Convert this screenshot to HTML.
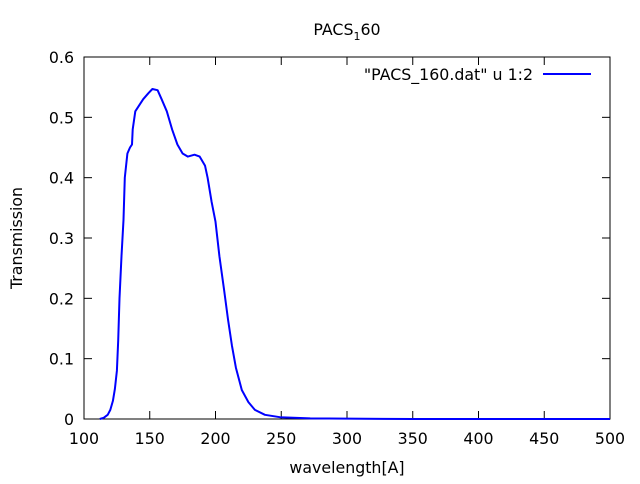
<!DOCTYPE html>
<html><head><meta charset="utf-8"><style>
body{margin:0;background:#fff;font-family:"DejaVu Sans",sans-serif}
svg text{font-family:"DejaVu Sans",sans-serif;font-size:15.8px;fill:#000}
</style></head><body>
<svg id="chart" width="640" height="480">
<text x="347" y="35" text-anchor="middle">PACS<tspan dy="5" font-size="11">1</tspan><tspan dy="-5">60</tspan></text>
<rect x="84" y="57" width="526" height="362" fill="none" stroke="#000" stroke-width="1"/>
<g id="ticks"></g>
<text x="347" y="473" text-anchor="middle">wavelength[A]</text>
<text transform="translate(22,238) rotate(-90)" text-anchor="middle">Transmission</text>
<g>
<text x="533" y="80" text-anchor="end">"PACS_160.dat" u 1:2</text>
<line x1="543" y1="74" x2="591" y2="74" stroke="#0000ff" stroke-width="2"/>
</g>
<path id="series" fill="none" stroke="#0000ff" stroke-width="2" stroke-linejoin="round"/>
</svg>
<script>
const wavelengths=[112,115,118,120,122,123.5,125,126,127,128.5,130,131,133,135,136.5,137,139,142,145,149,152,156,159,163,167,171,175,179,184,188,192,194,197,200,203,206.5,209.5,212.5,215.5,220,225,230,237.6,249,272,350,500];
const transmission=[0,0.002,0.007,0.015,0.03,0.05,0.08,0.13,0.2,0.27,0.33,0.4,0.44,0.45,0.455,0.48,0.51,0.52,0.53,0.54,0.547,0.545,0.53,0.51,0.48,0.455,0.44,0.435,0.438,0.435,0.42,0.4,0.36,0.327,0.27,0.215,0.165,0.122,0.085,0.048,0.028,0.015,0.007,0.003,0.001,0,0];
const xTicks=[100,150,200,250,300,350,400,450,500];
const yTicks=[0,0.1,0.2,0.3,0.4,0.5,0.6];
const X=v=>84+(v-100)*526/400, Y=v=>419-v*362/0.6;
const NS="http://www.w3.org/2000/svg", g=document.getElementById('ticks');
function mk(t,a){const e=document.createElementNS(NS,t);for(const k in a)e.setAttribute(k,a[k]);g.appendChild(e);return e;}
xTicks.forEach(v=>{const x=X(v);
const t1=mk('line',{x1:x,x2:x,y1:419,y2:411,stroke:'#000'});


const t2=mk('line',{x1:x,x2:x,y1:57,y2:65,stroke:'#000'});


const l=mk('text',{x:x,y:444,'text-anchor':'middle'});l.textContent=v;

});
yTicks.forEach(v=>{const y=Y(v);
const t1=mk('line',{x1:84,x2:92,y1:y,y2:y,stroke:'#000'});


const t2=mk('line',{x1:602,x2:610,y1:y,y2:y,stroke:'#000'});


const l=mk('text',{x:74,y:y+6,'text-anchor':'end'});l.textContent=v===0?'0':v.toFixed(1);

});
document.getElementById('series').setAttribute('d',wavelengths.map((w,i)=>(i?'L':'M')+X(w).toFixed(1)+','+Y(transmission[i]).toFixed(1)).join(''));
</script>
</body></html>
